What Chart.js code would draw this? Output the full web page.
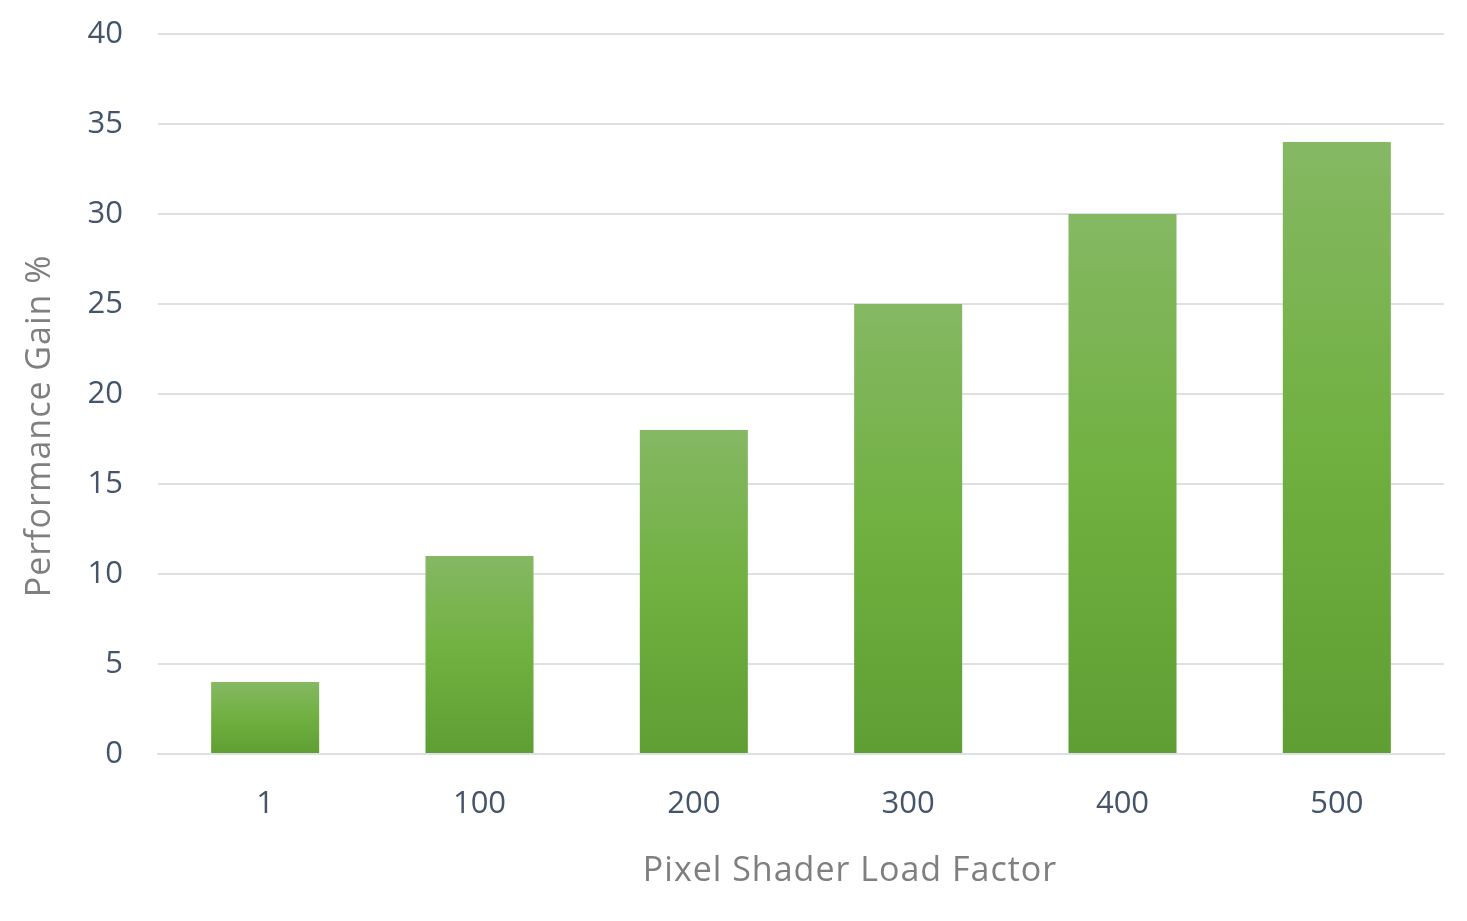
<!DOCTYPE html>
<html>
<head>
<meta charset="utf-8">
<script src="https://cdn.jsdelivr.net/npm/chart.js@4"></script>
<style>
  html, body { margin: 0; padding: 0; background: #ffffff; }
  #wrap { width: 1467px; height: 921px; }
</style>
</head>
<body>
<div id="wrap"><canvas id="c" width="1467" height="921"></canvas></div>
<script>
const categories = ['1', '100', '200', '300', '400', '500'];
const gainValues = [4, 11, 18, 25, 30, 34];
const yTicks = [0, 5, 10, 15, 20, 25, 30, 35, 40];
const xTitle = 'Pixel Shader Load Factor';
const yTitle = 'Performance Gain %';

const FONT = "'Open Sans', 'Noto Sans', sans-serif";
const TICK_COLOR = '#44546a';
const TITLE_COLOR = '#7f7f7f';
const GRID_COLOR = '#dde1e6';

function barGradient(ctx) {
  const chart = ctx.chart;
  const scales = chart.scales;
  if (ctx.type !== 'data' || !scales || !scales.y) return '#70b040';
  const v = gainValues[ctx.dataIndex];
  const top = scales.y.getPixelForValue(v);
  const base = scales.y.getPixelForValue(0);
  if (!isFinite(top) || !isFinite(base) || top === base) return '#70b040';
  const g = chart.ctx.createLinearGradient(0, top, 0, base);
  g.addColorStop(0, '#85b863');
  g.addColorStop(0.5, '#70b040');
  g.addColorStop(1, '#5f9e33');
  return g;
}

const axisTitles = {
  id: 'axisTitles',
  afterDraw(chart) {
    const c = chart.ctx;
    c.save();
    c.fillStyle = TITLE_COLOR;
    c.font = "34px " + FONT;
    try { c.letterSpacing = '1px'; } catch (e) {}
    c.textAlign = 'center';
    c.textBaseline = 'middle';
    c.fillText(xTitle, 850, 871);
    c.translate(40, 426);
    c.rotate(-Math.PI / 2);
    c.fillText(yTitle, 0, 0);
    c.restore();
  }
};

new Chart(document.getElementById('c'), {
  type: 'bar',
  data: {
    labels: categories,
    datasets: [{
      label: 'Performance Gain %',
      data: gainValues,
      backgroundColor: barGradient,
      borderWidth: 0,
      categoryPercentage: 1,
      barPercentage: 0.504
    }]
  },
  options: {
    responsive: false,
    animation: false,
    events: [],
    layout: { padding: { left: 0, right: 23, top: 34, bottom: 0 } },
    plugins: {
      legend: { display: false },
      tooltip: { enabled: false },
      title: { display: false }
    },
    scales: {
      x: {
        grid: { display: false, drawTicks: false },
        border: { display: true, color: GRID_COLOR, width: 2 },
        ticks: {
          color: TICK_COLOR,
          font: { family: FONT, size: 31 },
          padding: 32
        },
        afterFit(scale) {
          scale.height = 167;
          scale.paddingLeft = 0;
          scale.paddingRight = 0;
        }
      },
      y: {
        min: 0,
        max: 40,
        afterBuildTicks(scale) { scale.ticks = yTicks.map(v => ({ value: v })); },
        grid: { color: GRID_COLOR, lineWidth: 2, drawTicks: false },
        border: { display: false },
        ticks: {
          color: TICK_COLOR,
          font: { family: FONT, size: 31 },
          padding: 35
        },
        afterFit(scale) {
          scale.width = 158;
          scale.paddingTop = 0;
          scale.paddingBottom = 0;
        }
      }
    }
  },
  plugins: [axisTitles]
});
</script>
</body>
</html>
